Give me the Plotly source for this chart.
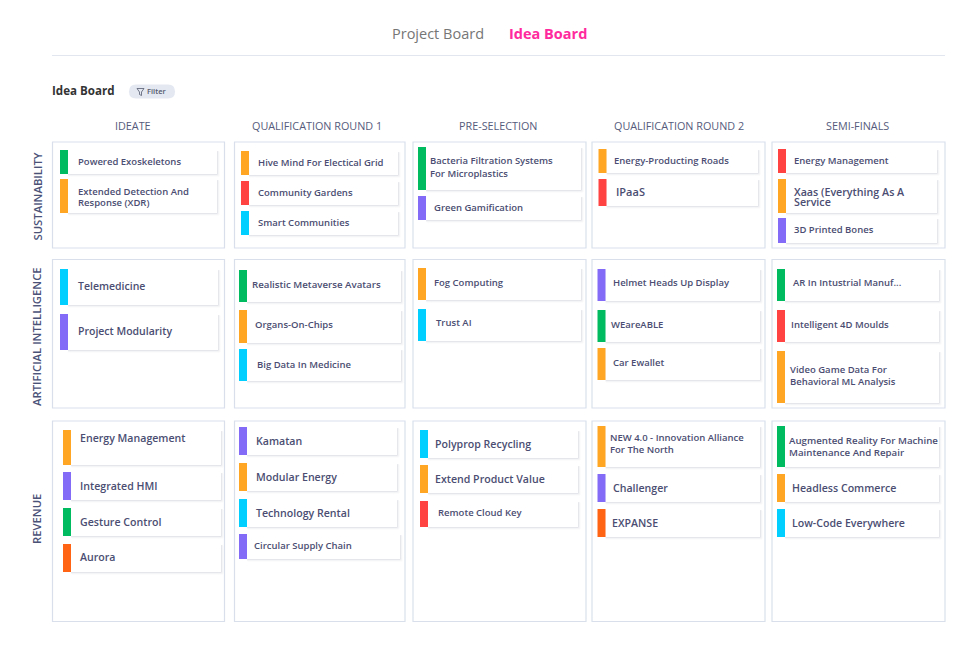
import plotly.graph_objects as go

# +++++++++
# Board data

columns = ["IDEATE", "QUALIFICATION ROUND 1", "PRE-SELECTION", "QUALIFICATION ROUND 2", "SEMI-FINALS"]
rows = ["SUSTAINABILITY", "ARTIFICIAL INTELLIGENCE", "REVENUE"]

# titles per column, "|" is a line break on the card
sustainability_titles = [
    ["Powered Exoskeletons", "Extended Detection And|Response (XDR)"],
    ["Hive Mind For Electical Grid", "Community Gardens", "Smart Communities"],
    ["Bacteria Filtration Systems|For Microplastics", "Green Gamification"],
    ["Energy-Producting Roads", "IPaaS"],
    ["Energy Management", "Xaas (Everything As A|Service", "3D Printed Bones"],
]
ai_titles = [
    ["Telemedicine", "Project Modularity"],
    ["Realistic Metaverse Avatars", "Organs-On-Chips", "Big Data In Medicine"],
    ["Fog Computing", "Trust AI"],
    ["Helmet Heads Up Display", "WEareABLE", "Car Ewallet"],
    ["AR In Intustrial Manuf...", "Intelligent 4D Moulds", "Video Game Data For|Behavioral ML Analysis"],
]
revenue_titles = [
    ["Energy Management", "Integrated HMI", "Gesture Control", "Aurora"],
    ["Kamatan", "Modular Energy", "Technology Rental", "Circular Supply Chain"],
    ["Polyprop Recycling", "Extend Product Value", "Remote Cloud Key"],
    ["NEW 4.0 - Innovation Alliance|For The North", "Challenger", "EXPANSE"],
    ["Augmented Reality For Machine|Maintenance And Repair", "Headless Commerce", "Low-Code Everywhere"],
]

# tag colour per card, same order as the titles
sustainability_tags = [
    ["green", "amber"],
    ["amber", "red", "cyan"],
    ["green", "violet"],
    ["amber", "red"],
    ["red", "amber", "violet"],
]
ai_tags = [
    ["cyan", "violet"],
    ["green", "amber", "cyan"],
    ["amber", "cyan"],
    ["violet", "green", "amber"],
    ["green", "red", "amber"],
]
revenue_tags = [
    ["amber", "violet", "green", "orange"],
    ["violet", "amber", "cyan", "violet"],
    ["cyan", "amber", "red"],
    ["amber", "violet", "orange"],
    ["green", "amber", "cyan"],
]

# ++++++
# Layout (pixels on the 980x650 page)

TAG_COLORS = {"green": "#00bb5f", "amber": "#ffa724", "red": "#ff4343",
              "cyan": "#00cfff", "violet": "#836bf7", "orange": "#ff6314"}
TEXT = "#4b4e72"
BORDER = "#d9e0ec"
FONT = "Open Sans"
TAG_W = 8

cell_x = [(52.5, 224.5), (234.5, 405), (413, 586), (592, 765), (772, 945)]
cell_y = [(142, 248), (259.5, 408), (421, 621.5)]
column_label_x = [133, 317, 498, 679, 857]
row_label_y = [197.5, 337, 520]

# one list per row, one sublist per column, one tuple per card:
# tag left, top, bottom, card right, text left, y of first line, line gap, font size
sustainability_boxes = [
    [(60, 150, 174, 217, 78, 162, 0, 9.5), (60, 179, 213, 217, 78, 192, 10.5, 9.5)],
    [(241, 151, 175, 398, 258, 163, 0, 9.5), (241, 181, 205, 398, 258, 193, 0, 9.5), (241, 211, 235, 398, 258, 223, 0, 9.5)],
    [(418, 147, 190, 581, 430, 161, 13, 9.5), (418, 196, 220, 581, 434, 208, 0, 9.5)],
    [(598.5, 149, 173, 758, 614, 161, 0, 9.5), (598.5, 179, 206, 758, 616, 192, 0, 11)],
    [(778, 149, 173, 937, 794, 161, 0, 9.5), (778, 179, 213, 937, 794, 192, 10.5, 10.7), (778, 218, 243, 937, 794, 230, 0, 9.5)],
]
ai_boxes = [
    [(60, 269, 305, 218, 78, 286, 0, 10.5), (60, 314, 350, 218, 78, 331, 0, 10.5)],
    [(239, 270, 302, 401, 252, 285, 0, 9.7), (239, 310, 343, 401, 255, 325, 0, 9.5), (239, 349, 381, 401, 257, 365, 0, 9.5)],
    [(418, 268, 300, 581, 434, 283, 0, 9.5), (418, 309, 341, 581, 436, 323, 0, 9.5)],
    [(597.5, 269, 301, 760, 613, 283, 0, 9.5), (597.5, 310, 342, 760, 611, 325, 0, 9.5), (597.5, 348, 380, 760, 613, 363, 0, 9.5)],
    [(777, 269, 301, 939, 793, 283, 0, 9.5), (777, 310, 342, 939, 791, 325, 0, 9.5), (777, 351, 403, 939, 790, 370, 11.5, 9.5)],
]
revenue_boxes = [
    [(63, 430, 465, 221, 80, 438, 0, 10.6), (63, 472, 500, 221, 80, 486, 0, 10.6), (63, 508, 536, 221, 80, 522, 0, 10.6), (63, 544, 572, 221, 80, 557, 0, 10.6)],
    [(239, 427, 455, 397, 256, 441, 0, 10.6), (239, 463, 491, 397, 256, 477, 0, 10.6), (239, 499, 527, 397, 256, 513, 0, 10.6), (239, 534, 559, 400, 254, 546, 0, 9.5)],
    [(420, 430, 458, 578, 435, 444, 0, 10.6), (420, 465, 493, 578, 435, 479, 0, 10.6), (420, 501, 527, 578, 438, 513, 0, 9.5)],
    [(597.5, 426, 467, 760, 610, 438, 11.5, 9.5), (597.5, 474, 502, 760, 613, 488, 0, 10.6), (597.5, 509, 537, 760, 612, 523, 0, 10.6)],
    [(777, 426, 467, 939, 789, 441, 11.5, 9.7), (777, 474, 502, 939, 792, 488, 0, 10.6), (777, 509, 537, 939, 792, 523, 0, 10.6)],
]

# +++++++
# Helpers

fig = go.Figure()
shapes = []
labels = []


def addRect(x0, y0, x1, y1, fill, line=None, width=0, radius=0):
    """Add a rectangle in page pixels, optionally with rounded corners."""
    shape = dict(type="rect", x0=x0, y0=y0, x1=x1, y1=y1, xref="x", yref="y",
                 fillcolor=fill, layer="below", line=dict(color=line or fill, width=width))
    if radius:
        path = (f"M{x0 + radius},{y0} L{x1 - radius},{y0} Q{x1},{y0} {x1},{y0 + radius} "
                f"L{x1},{y1 - radius} Q{x1},{y1} {x1 - radius},{y1} "
                f"L{x0 + radius},{y1} Q{x0},{y1} {x0},{y1 - radius} "
                f"L{x0},{y0 + radius} Q{x0},{y0} {x0 + radius},{y0} Z")
        shape = dict(type="path", path=path, xref="x", yref="y", fillcolor=fill,
                     layer="below", line=dict(color=line or fill, width=width))
    shapes.append(shape)


def addText(x, y, text, size, color=TEXT, weight=600, anchor="left", angle=0):
    # y - 0.5 because the font sits a little low in its line box
    labels.append(dict(x=x, y=y - 0.5, xref="x", yref="y", text=text, showarrow=False,
                       xanchor=anchor, yanchor="middle", textangle=angle,
                       borderpad=0, borderwidth=0,
                       font=dict(family=FONT, size=size, color=color, weight=weight)))


def addCard(title, tag, box):
    """One idea card: soft shadow, white body, coloured tag and its title."""
    left, top, bottom, right, text_x, text_y, gap, size = box
    body = left + TAG_W
    for spread, alpha in [(2.5, 0.04), (1.5, 0.06), (0.7, 0.09)]:
        addRect(body, top + 1, right + spread, bottom + spread, f"rgba(90,100,130,{alpha})", radius=1)
    addRect(body, top, right, bottom, "white")
    addRect(left, top, body, bottom, TAG_COLORS[tag])
    for i, line in enumerate(title.split("|")):
        addText(text_x, text_y + i * gap, line, size)


# ++++++++++
# The board

addText(437.5, 34, "Project Board", 14.5, color="#767676", weight=500, anchor="center")
addText(547.5, 34, "Idea Board", 14.5, color="#ff2a9d", weight=700, anchor="center")
shapes.append(dict(type="line", x0=52, x1=945, y0=55.5, y1=55.5, xref="x", yref="y",
                   layer="below", line=dict(color="#e2e6ee", width=1)))

addText(52, 91, "Idea Board", 11.6, color="#333333", weight=700)
addRect(129, 84.5, 175, 98.5, "#e3e8f1", radius=7)
shapes.append(dict(type="path", path="M137,88.5 L144,88.5 L141.5,92 L141.5,95.5 L139.5,94.5 L139.5,92 Z",
                   xref="x", yref="y", line=dict(color="#555a6e", width=0.8)))
addText(147, 91.8, "Filter", 7.5, color="#555a6e")

for name, x in zip(columns, column_label_x):
    addText(x, 126, name, 10.8, color="#565b7c", weight=500, anchor="center")
for name, y in zip(rows, row_label_y):
    addText(36.5, y, name, 11.3, color="#4b5278", weight=600, anchor="center", angle=-90)

for y0, y1 in cell_y:
    for x0, x1 in cell_x:
        addRect(x0, y0, x1, y1, "white", line=BORDER, width=1.2)

for titles, tags, boxes in [(sustainability_titles, sustainability_tags, sustainability_boxes),
                            (ai_titles, ai_tags, ai_boxes),
                            (revenue_titles, revenue_tags, revenue_boxes)]:
    for col_titles, col_tags, col_boxes in zip(titles, tags, boxes):
        for title, tag, box in zip(col_titles, col_tags, col_boxes):
            addCard(title, tag, box)

fig.update_layout(
    width=980, height=650,
    margin=dict(l=0, r=0, t=0, b=0),
    plot_bgcolor="white", paper_bgcolor="white",
    xaxis=dict(range=[0, 980], visible=False, fixedrange=True),
    yaxis=dict(range=[650, 0], visible=False, fixedrange=True),
    shapes=shapes, annotations=labels, showlegend=False,
)

# the page's default body margin would push the board 8px off
fig.write_html("out.html", config=dict(displayModeBar=False),
               post_script="document.body.style.margin = '0'; document.documentElement.style.overflow = 'hidden';")
